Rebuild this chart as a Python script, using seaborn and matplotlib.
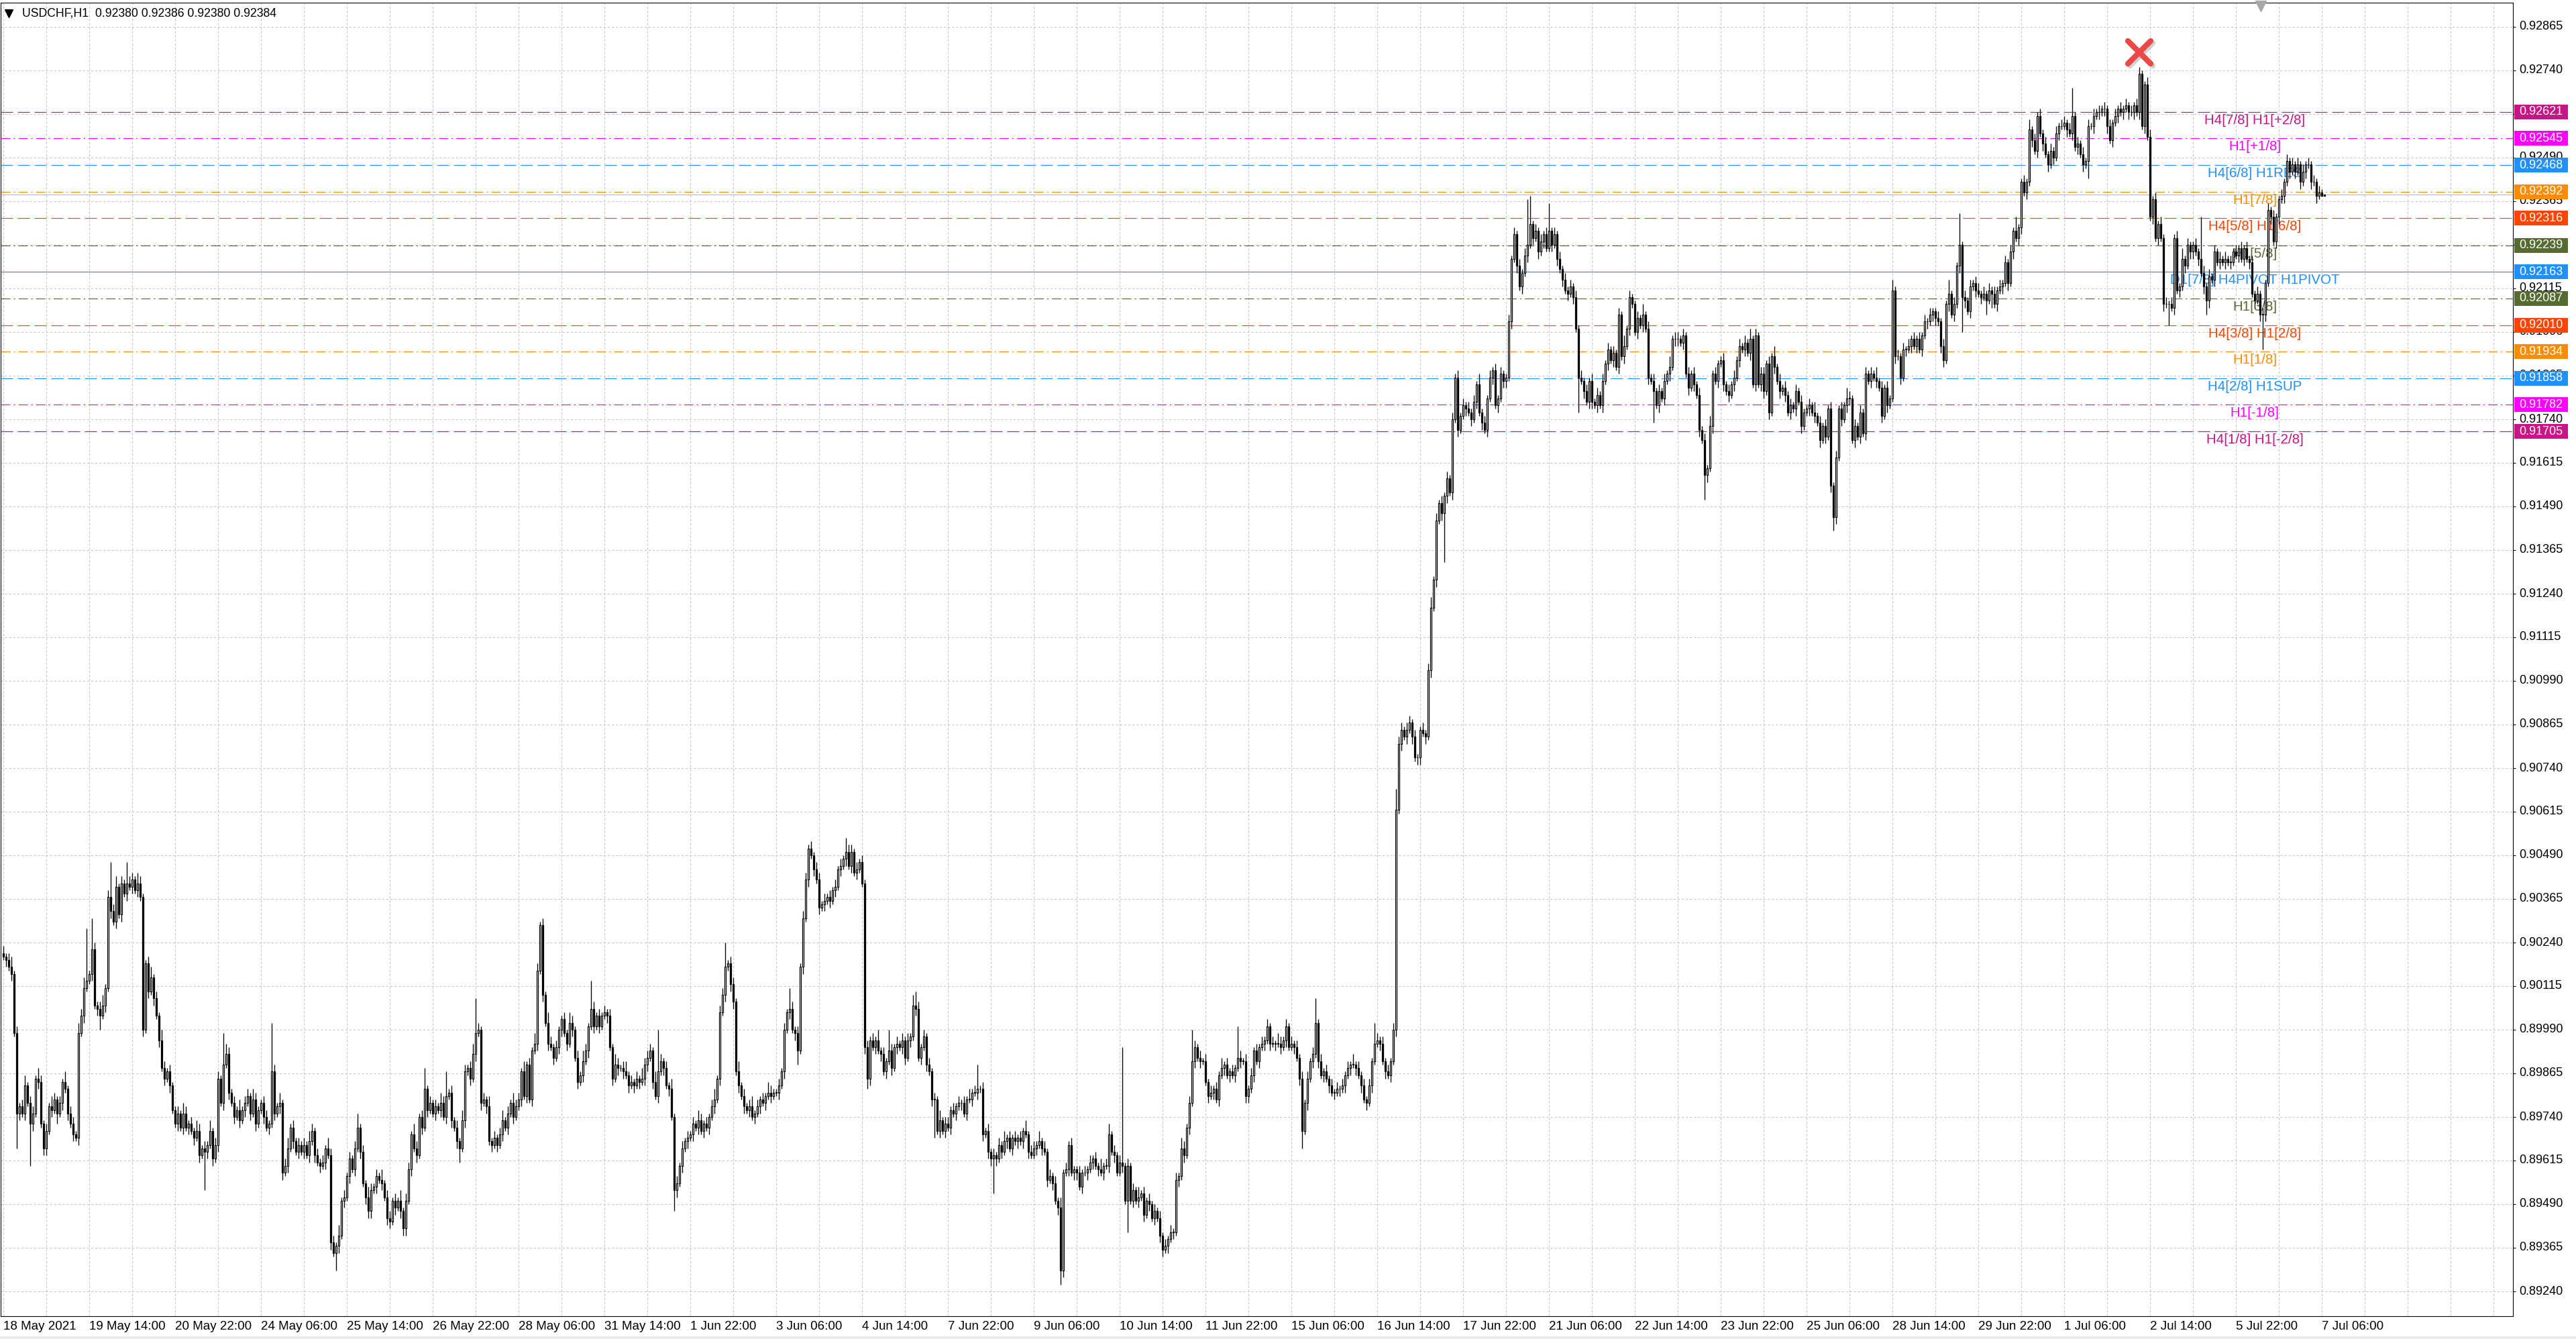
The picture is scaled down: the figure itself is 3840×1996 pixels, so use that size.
import numpy as np
import matplotlib
matplotlib.use("Agg")
import matplotlib.pyplot as plt
from matplotlib.markers import MarkerStyle
from matplotlib.patches import Rectangle
import seaborn as sns

# USDCHF H1 closes in pips (0.0001), one row = 16 hourly bars (one grid cell)
closes = [
    9020, 9019, 9017, 9015, 8998, 8975, 8977, 8975, 8983, 8978, 8972, 8975, 8985, 8984, 8972, 8965,
    8970, 8977, 8976, 8979, 8975, 8978, 8984, 8982, 8975, 8972, 8969, 8968, 8998, 9003, 9011, 9013,
    9015, 9022, 9006, 9005, 9003, 9006, 9011, 9037, 9033, 9030, 9040, 9032, 9041, 9038, 9041, 9040,
    9042, 9039, 9041, 9037, 8999, 9018, 9010, 9014, 9008, 9003, 8996, 8988, 8985, 8987, 8983, 8976,
    8972, 8975, 8971, 8975, 8971, 8972, 8970, 8968, 8970, 8963, 8965, 8964, 8966, 8970, 8962, 8966,
    8985, 8978, 8989, 8992, 8981, 8978, 8974, 8976, 8973, 8976, 8978, 8980, 8975, 8979, 8972, 8976,
    8978, 8974, 8971, 8972, 8987, 8975, 8977, 8978, 8958, 8960, 8965, 8971, 8967, 8964, 8966, 8964,
    8966, 8963, 8967, 8970, 8963, 8961, 8960, 8961, 8965, 8963, 8938, 8935, 8937, 8940, 8950, 8951,
    8957, 8962, 8959, 8965, 8971, 8964, 8955, 8951, 8947, 8953, 8954, 8957, 8956, 8955, 8951, 8945,
    8944, 8950, 8948, 8950, 8947, 8942, 8950, 8959, 8969, 8965, 8963, 8974, 8971, 8982, 8976, 8978,
    8975, 8977, 8976, 8978, 8974, 8980, 8981, 8973, 8971, 8967, 8965, 8973, 8987, 8988, 8985, 8992,
    8998, 8999, 8978, 8979, 8977, 8967, 8966, 8968, 8966, 8969, 8973, 8971, 8975, 8978, 8974, 8977,
    8979, 8987, 8980, 8989, 8979, 8993, 8995, 9016, 9029, 9009, 9001, 8995, 8994, 8991, 8994, 8999,
    9002, 8998, 8995, 9001, 8999, 8991, 8984, 8986, 8990, 8993, 9000, 9005, 9000, 9003, 9000, 9003,
    9004, 9003, 8994, 8985, 8989, 8988, 8988, 8987, 8986, 8983, 8984, 8983, 8985, 8984, 8985, 8989,
    8991, 8993, 8984, 8980, 8987, 8990, 8988, 8983, 8982, 8974, 8953, 8955, 8960, 8965, 8967, 8968,
    8969, 8972, 8971, 8973, 8970, 8972, 8971, 8974, 8977, 8979, 8985, 9004, 9009, 9017, 9018, 9012,
    9007, 8987, 8983, 8980, 8977, 8976, 8977, 8974, 8975, 8977, 8979, 8978, 8980, 8981, 8980, 8981,
    8981, 8983, 8987, 8999, 9004, 9005, 8999, 8998, 8993, 9017, 9031, 9042, 9051, 9049, 9045, 9042,
    9034, 9035, 9036, 9037, 9036, 9039, 9040, 9045, 9046, 9048, 9050, 9046, 9050, 9044, 9045, 9047,
    9041, 8994, 8985, 8996, 8994, 8996, 8993, 8992, 8987, 8990, 8993, 8988, 8994, 8995, 8994, 8996,
    8991, 8996, 8997, 9006, 9005, 8991, 8994, 8997, 8989, 8987, 8979, 8979, 8970, 8973, 8970, 8972,
    8971, 8976, 8975, 8977, 8978, 8978, 8975, 8979, 8979, 8981, 8981, 8982, 8982, 8969, 8970, 8964,
    8962, 8963, 8962, 8966, 8964, 8967, 8968, 8965, 8968, 8967, 8968, 8967, 8970, 8969, 8964, 8963,
    8965, 8966, 8967, 8965, 8964, 8956, 8957, 8955, 8950, 8948, 8930, 8958, 8959, 8966, 8958, 8959,
    8958, 8954, 8958, 8958, 8959, 8961, 8962, 8960, 8959, 8958, 8960, 8960, 8969, 8964, 8963, 8958,
    8961, 8960, 8950, 8960, 8950, 8953, 8950, 8951, 8952, 8946, 8950, 8949, 8945, 8947, 8945, 8940,
    8936, 8937, 8939, 8941, 8941, 8956, 8957, 8965, 8963, 8971, 8978, 8990, 8994, 8991, 8990, 8990,
    8984, 8980, 8981, 8982, 8979, 8986, 8988, 8989, 8986, 8987, 8986, 8988, 8991, 8990, 8990, 8980,
    8982, 8986, 8993, 8990, 8994, 8995, 8996, 9000, 8995, 8995, 8995, 8995, 8994, 8996, 9000, 8994,
    8995, 8994, 8991, 8985, 8970, 8978, 8985, 8990, 8992, 9001, 8990, 8986, 8987, 8985, 8983, 8981,
    8981, 8982, 8982, 8983, 8986, 8988, 8989, 8989, 8988, 8986, 8983, 8979, 8978, 8983, 8990, 8995,
    8996, 8995, 8990, 8987, 8986, 8990, 8999, 9062, 9081, 9085, 9083, 9085, 9087, 9083, 9077, 9077,
    9085, 9084, 9083, 9102, 9120, 9128, 9145, 9150, 9147, 9152, 9157, 9153, 9174, 9186, 9171, 9175,
    9178, 9177, 9176, 9174, 9179, 9184, 9176, 9173, 9171, 9180, 9186, 9188, 9178, 9180, 9187, 9185,
    9186, 9202, 9220, 9227, 9218, 9212, 9216, 9221, 9224, 9230, 9226, 9228, 9222, 9225, 9227, 9223,
    9228, 9224, 9227, 9220, 9217, 9214, 9211, 9210, 9212, 9209, 9200, 9186, 9185, 9182, 9179, 9185,
    9179, 9178, 9181, 9178, 9185, 9190, 9194, 9191, 9193, 9189, 9204, 9192, 9195, 9200, 9209, 9207,
    9199, 9203, 9201, 9204, 9200, 9186, 9185, 9182, 9178, 9182, 9180, 9185, 9187, 9189, 9197, 9197,
    9197, 9196, 9198, 9187, 9183, 9187, 9184, 9181, 9171, 9168, 9158, 9160, 9172, 9187, 9185, 9190,
    9191, 9184, 9182, 9181, 9184, 9186, 9191, 9195, 9194, 9196, 9193, 9197, 9184, 9198, 9184, 9187,
    9182, 9190, 9176, 9192, 9189, 9185, 9182, 9183, 9181, 9176, 9178, 9177, 9182, 9179, 9172, 9176,
    9177, 9178, 9176, 9175, 9173, 9168, 9172, 9169, 9177, 9155, 9146, 9163, 9177, 9174, 9178, 9180,
    9180, 9168, 9172, 9169, 9176, 9170, 9187, 9185, 9187, 9186, 9185, 9183, 9175, 9183, 9178, 9180,
    9211, 9192, 9192, 9186, 9194, 9194, 9195, 9197, 9195, 9197, 9194, 9198, 9202, 9202, 9204, 9205,
    9203, 9202, 9195, 9191, 9207, 9210, 9204, 9207, 9218, 9224, 9209, 9208, 9205, 9212, 9213, 9211,
    9210, 9209, 9210, 9208, 9211, 9210, 9207, 9211, 9212, 9213, 9219, 9213, 9222, 9228, 9226, 9229,
    9242, 9239, 9242, 9257, 9254, 9251, 9261, 9256, 9253, 9250, 9247, 9251, 9249, 9256, 9258, 9258,
    9259, 9257, 9256, 9261, 9252, 9253, 9250, 9247, 9248, 9258, 9258, 9261, 9262, 9262, 9263, 9263,
    9258, 9254, 9259, 9261, 9263, 9262, 9263, 9264, 9262, 9262, 9264, 9262, 9273, 9258, 9270, 9255,
    9232, 9237, 9226, 9230, 9226, 9207, 9207, 9207, 9206, 9226, 9211, 9212, 9220, 9218, 9224, 9222,
    9224, 9222, 9220, 9216, 9212, 9208, 9215, 9214, 9222, 9219, 9220, 9219, 9220, 9219, 9219, 9222,
    9221, 9223, 9220, 9223, 9220, 9219, 9210, 9208, 9210, 9204, 9204, 9213, 9234, 9232, 9225, 9232,
    9237, 9238, 9242, 9248, 9245, 9247, 9245, 9247, 9242, 9245, 9247, 9247, 9242, 9242, 9238, 9239,
    9238, 9238.4,
]
first_open = 9021

# wick beyond the body in pips, one base-36 char per bar, 16 bars per chunk
wick_up = "".join([
    "2123121231221321", "213212131221323f", "19212312a2312162", "2132112312132121",
    "1213212132121312", "2193212131221321", "1221e21312312121", "2132121213221312",
    "1212412132121312", "2121312213212612", "1213271212132123", "a212131212312132",
    "2131213212132121", "1213212132182121", "2121321231212132", "2213c21213121212",
    "1213212123122712", "2131212312121321", "1212162121221212", "2121212121422121",
    "2121213121621212", "1213421212121312", "2121212131271212", "1212131212121312",
    "2131212121312121", "1212121213123121", "2x12121312121212", "1212121321292121",
    "2121213121219212", "1212121212132121", "2121212127121212", "1212121312121216",
    "2121212622122121", "1212312121212121", "2121213121212121", "12121212d8121212",
    "8121212121212121", "2121212121213121", "1213121212121312", "2121212121213121",
    "1212121212131212", "2121312121212121", "1213121212121213", "2121212121312121",
    "3121212121212121", "1212141219121212", "2121212121212141", "1213121212121212",
    "2128121212121212", "1212121212122112", "2121212121213121", "121c212121212121",
    "2121212121212121", "1212121212121212", "10",
])
wick_dn = "".join([
    "12121a2121c21212", "2121312121212121", "1212412121212121", "2121212121212121",
    "12121212121b2121", "2121212121212121", "1212121221212121", "2121212121215212",
    "1212121222121212", "2121222121212121", "1212121212412121", "2121212121212121",
    "1212121212121212", "2121212121212121", "1212121212121212", "2121212121621212",
    "1212121212121212", "2121212121212121", "1212121241212121", "2121212121212121",
    "1232121212121212", "21212121212b1212", "1212121212121212", "2a21212121212121",
    "1212121212421212", "2121212121212121", "1219121212121212", "2121212121212121",
    "1212121212121212", "2121212121212121", "1212512121212121", "2121212121212121",
    "1212121212121212", "212121212e212121", "1212121212121212", "2121212121212121",
    "12121212121a1212", "2121212121212121", "1212121912121212", "2121212121721212",
    "1212121212121212", "2121212121212121", "1212121212421212", "2121212121212121",
    "1212121212121212", "2122121212a21212", "1214141212121212", "2121212121212121",
    "1212121215121212", "2121212121212121", "1212121612121212", "2121242121212121",
    "1212121212a21212", "2121212121212121", "00",
])

time_labels = ["18 May 2021", "19 May 14:00", "20 May 22:00", "24 May 06:00", "25 May 14:00",
               "26 May 22:00", "28 May 06:00", "31 May 14:00", "1 Jun 22:00", "3 Jun 06:00",
               "4 Jun 14:00", "7 Jun 22:00", "9 Jun 06:00", "10 Jun 14:00", "11 Jun 22:00",
               "15 Jun 06:00", "16 Jun 14:00", "17 Jun 22:00", "21 Jun 06:00", "22 Jun 14:00",
               "23 Jun 22:00", "25 Jun 06:00", "28 Jun 14:00", "29 Jun 22:00", "1 Jul 06:00",
               "2 Jul 14:00", "5 Jul 22:00", "7 Jul 06:00"]

price_ticks = [0.89240, 0.89365, 0.89490, 0.89615, 0.89740, 0.89865, 0.89990, 0.90115,
               0.90240, 0.90365, 0.90490, 0.90615, 0.90740, 0.90865, 0.90990, 0.91115,
               0.91240, 0.91365, 0.91490, 0.91615, 0.91740, 0.91865, 0.91990, 0.92115,
               0.92240, 0.92365, 0.92490, 0.92615, 0.92740, 0.92865]

# murrey-math style levels drawn by the indicator
level_prices = [0.92621, 0.92545, 0.92468, 0.92392, 0.92316, 0.92239, 0.92163,
                0.92087, 0.92010, 0.91934, 0.91858, 0.91782, 0.91705]
level_names = ["H4[7/8] H1[+2/8]", "H1[+1/8]", "H4[6/8] H1RES", "H1[7/8]", "H4[5/8] H1[6/8]",
               "H1[5/8]", "D1[7/8] H4PIVOT H1PIVOT", "H1[3/8]", "H4[3/8] H1[2/8]", "H1[1/8]",
               "H4[2/8] H1SUP", "H1[-1/8]", "H4[1/8] H1[-2/8]"]
level_colors = ["#C71585", "#FF00FF", "#1E90FF", "#FF8C00", "#FF4500", "#556B2F", "#1E90FF",
                "#556B2F", "#FF4500", "#FF8C00", "#1E90FF", "#FF00FF", "#C71585"]
level_kinds = ["dash", "dashdot", "dash", "dashdot", "dash", "dashdot", "solid",
               "dashdot", "dash", "dashdot", "dash", "dashdot", "dash"]

bid_price = 0.92384
peak_bar, peak_mark = 796, 0.92792
title = "USDCHF,H1  0.92380 0.92386 0.92380 0.92384"

# ---- geometry (pixels of the 3840x1996 picture) ----
W, H = 3840, 1996
LEFT, TOP, RIGHT, BOTTOM = 1, 4, 3746, 1962
PX_BAR, PX_PIP = 4.0, 5.2
Y0_PX, Y0_PRICE = 40, 0.92865        # where 0.92865 sits
X0_PX = 5                            # centre of bar 0

y_top = Y0_PRICE + (Y0_PX - TOP) / PX_PIP * 1e-4
y_bot = Y0_PRICE - (BOTTOM - Y0_PX) / PX_PIP * 1e-4
x_min = (LEFT - X0_PX) / PX_BAR
x_max = (RIGHT - X0_PX) / PX_BAR

sns.set_theme(style="white")
plt.rcParams["font.family"] = ["Liberation Sans", "DejaVu Sans"]
plt.rcParams["lines.scale_dashes"] = False

n = min(len(closes), len(wick_up), len(wick_dn))
c = np.array(closes[:n], dtype=float) / 1e4
o = np.r_[first_open / 1e4, c[:-1]]
up = np.array([int(ch, 36) for ch in wick_up[:n]]) / 1e4
dn = np.array([int(ch, 36) for ch in wick_dn[:n]]) / 1e4
hi = np.maximum(o, c) + up
lo = np.minimum(o, c) - dn
idx = np.arange(n)

fig = plt.figure(figsize=(W / 100, H / 100), dpi=100)
fig.patch.set_facecolor("white")
ax = fig.add_axes([LEFT / W, 1 - BOTTOM / H, (RIGHT - LEFT) / W, (BOTTOM - TOP) / H])
ax.set_xlim(x_min, x_max)
ax.set_ylim(y_bot, y_top)
ax.set_facecolor("white")
for s in ax.spines.values():
    s.set_color("black")
    s.set_linewidth(0.8)

grid_kw = dict(color="#C4C4C4", lw=0.75, linestyle=(0, (2.2, 2.2)), zorder=0)
for p in price_ticks:
    ax.axhline(p, **grid_kw)
for b in range(0, int(x_max) + 1, 16):
    ax.axvline(b, **grid_kw)

dash_map = {"dash": (0, (13, 5)), "dashdot": (0, (10, 3.6, 1.6, 3.6)), "solid": "-"}
for p, name, col, kind in zip(level_prices, level_names, level_colors, level_kinds):
    ax.axhline(p, color=col, lw=0.85, linestyle=dash_map[kind], zorder=1)
    ax.annotate(name, (839, p), xytext=(0, -3), textcoords="offset pixels",
                ha="center", va="top", fontsize=14.8, color=col, zorder=1.5)

ax.axhline(bid_price, color="#B4B4B4", lw=0.8, zorder=1.2)

# candles
ax.vlines(idx, lo, hi, color="black", lw=0.95, zorder=3)
body_lo = np.minimum(o, c)
body_h = np.maximum(np.abs(c - o), 0.000012)
bull = c >= o
ax.bar(idx[bull], body_h[bull], bottom=body_lo[bull], width=0.55, color="white",
       edgecolor="black", linewidth=0.9, zorder=4)
ax.bar(idx[~bull], body_h[~bull], bottom=body_lo[~bull], width=0.55, color="black",
       edgecolor="black", linewidth=0.9, zorder=4)

# red cross over the top
xm = MarkerStyle("x", capstyle="round")
ax.plot([peak_bar + 0.8], [peak_mark - 0.00006], marker=xm, ms=24, mew=6,
        color="#9A9A9A", alpha=0.45, zorder=5, ls="none")
ax.plot([peak_bar], [peak_mark], marker=xm, ms=24, mew=6, color="#EC4848",
        zorder=6, ls="none")

# time axis
ax.set_xticks([32 * k for k in range(len(time_labels))])
ax.set_xticklabels(time_labels, ha="left", fontsize=13.5)
ax.tick_params(axis="x", direction="out", length=3, width=0.8, pad=2, colors="black")
ax.set_yticks([])

# price scale on the right
ax_r = fig.add_axes([RIGHT / W, 1 - BOTTOM / H, (W - RIGHT) / W, (BOTTOM - TOP) / H])
ax_r.set_xlim(0, W - RIGHT)
ax_r.set_ylim(y_bot, y_top)
ax_r.axis("off")
ax_r.hlines(price_ticks, 0, 4, color="black", lw=0.8)
for p in price_ticks:
    ax_r.text(9, p, f"{p:.5f}", ha="left", va="center", fontsize=13, color="black",
              clip_on=False)
box_h = 22 / PX_PIP * 1e-4
for p, col in zip(level_prices, level_colors):
    ax_r.add_patch(Rectangle((2, p - box_h / 2), 80, box_h, facecolor=col,
                             edgecolor="none", zorder=3, clip_on=False))
    ax_r.text(9, p, f"{p:.5f}", ha="left", va="center", fontsize=13, color="white",
              zorder=4, clip_on=False)

# window decorations in pixel space
ov = fig.add_axes([0, 0, 1, 1], facecolor="none")
ov.set_xlim(0, W)
ov.set_ylim(H, 0)
ov.axis("off")
ov.add_patch(Rectangle((0, H - 4), W, 4, facecolor="#EBEBEB", edgecolor="none"))
ov.plot([13], [20], marker="v", ms=8, color="black", ls="none")
ov.text(33, 20, title, ha="left", va="center", fontsize=12.7, color="black")
ov.plot([3370], [9], marker="v", ms=11, color="#A8A8A8", ls="none")

fig.savefig("out.png", dpi=100, facecolor="white")
